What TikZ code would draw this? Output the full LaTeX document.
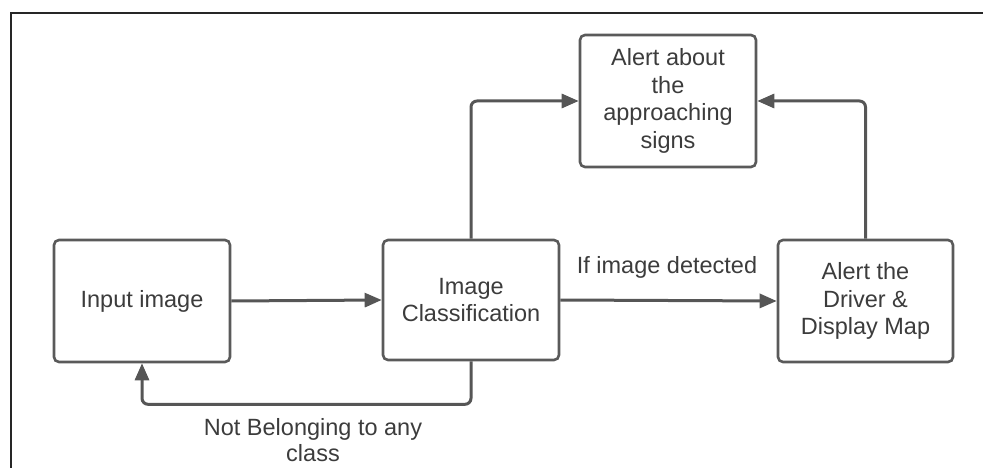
\documentclass[tikz,border=0pt]{standalone}
\usepackage{fontspec}
\setmainfont{Liberation Sans}
\usetikzlibrary{arrows.meta}
\definecolor{boxline}{HTML}{5A5A5A}
\definecolor{arrline}{HTML}{565656}
\definecolor{txt}{HTML}{3C3C3C}
\begin{document}
\begin{tikzpicture}[x=1pt,y=-1pt,
  box/.style={draw=boxline, line width=2.6pt, rounded corners=5pt, fill=white,
    align=center, text=txt, inner sep=0pt,
    font=\fontsize{23.5}{27.5}\selectfont},
  conn/.style={draw=arrline, line width=3pt, rounded corners=6pt,
    -{Triangle[length=17pt,width=14pt]}},
  lbl/.style={text=txt, align=center, inner sep=0pt,
    font=\fontsize{23.5}{25.5}\selectfont}]
\useasboundingbox (0,0) rectangle (983,468);
\draw[line width=2.5pt, color=black!85] (11,468) -- (11,13) -- (983,13);
\node[box, minimum width=176pt, minimum height=122pt] (in) at (142,301) {Input image};
\node[box, minimum width=176pt, minimum height=120pt] (cls) at (471,300) {Image\\Classification};
\node[box, minimum width=175pt, minimum height=122pt] (drv) at (865.5,301) {Alert the\\Driver \&\\Display Map};
\node[box, minimum width=176pt, minimum height=132pt] (alr) at (668,101) {Alert about\\the\\approaching\\signs};
\draw[conn] (in.east) -- (cls.west);
\draw[conn] (cls.east) -- (drv.west);
\draw[conn] (cls.north) |- (alr.west);
\draw[conn] (drv.north) |- (alr.east);
\draw[conn] (cls.south) -- ++(0,43) -| (in.south);
\node[lbl] (det) at (667,267) {If image detected};
\node[lbl] (nb) at (313,440) {Not Belonging to any\\class};
\end{tikzpicture}
\end{document}
